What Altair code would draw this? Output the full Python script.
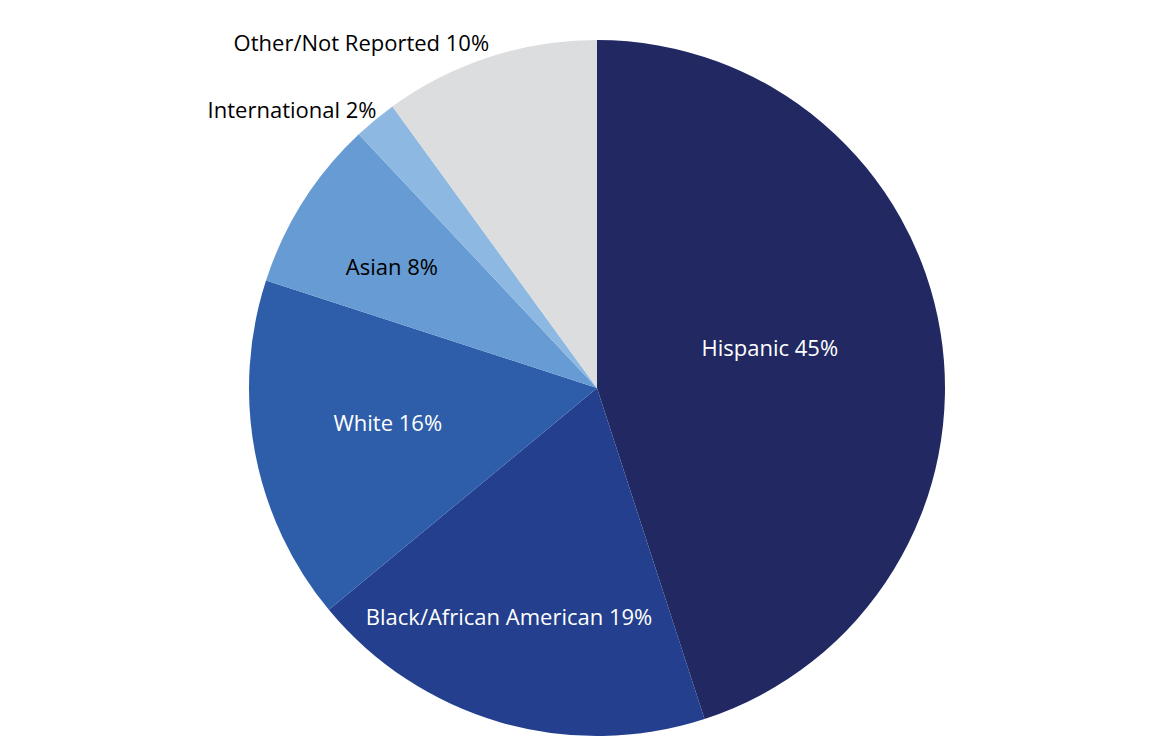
import math
import altair as alt
import pandas as pd

categories = ["Hispanic", "Black/African American", "White", "Asian", "International", "Other/Not Reported"]
values = [45, 19, 16, 8, 2, 10]
colors = ["#222962", "#233F8D", "#2E5DAA", "#679BD3", "#8DB8E2", "#DCDDDF"]

df = pd.DataFrame({
    "category": categories,
    "value": values,
    "order": list(range(len(categories))),
})
df["label"] = [f"{c} {v}%" for c, v in zip(categories, values)]

CX, CY, R = 589, 380, 348
FONT = "Open Sans"
theta_scale = alt.Scale(domain=[0, 100], range=[0, 2 * math.pi])

base = alt.Chart(df).transform_window(
    cum="sum(value)", sort=[alt.SortField("order")], frame=[None, 0]
).transform_calculate(
    start="datum.cum - datum.value",
    mid="datum.cum - datum.value / 2",
)

pie = base.mark_arc(outerRadius=R, stroke=None).encode(
    theta=alt.Theta("start:Q", scale=theta_scale, stack=None),
    theta2="cum:Q",
    color=alt.Color("category:N", scale=alt.Scale(domain=categories, range=colors), legend=None),
    x=alt.value(CX),
    y=alt.value(CY),
)

# per-label placement: (radius, dx, dy, align, color)
placements = {
    "Hispanic": (175, 0, -12, "center", "white"),
    "Black/African American": (240, -21, 0, "center", "white"),
    "White": (213, 0, -4, "center", "white"),
    "Asian": (237, -5, 7, "center", "black"),
    "International": (360, 9, 0, "right", "black"),
    "Other/Not Reported": (362, 4, 0, "right", "black"),
}

layers = [pie]
for cat in categories:
    r, dx, dy, align, col = placements[cat]
    layers.append(
        base.transform_filter(alt.datum.category == cat).mark_text(
            radius=r, dx=dx, dy=dy, align=align, baseline="middle",
            font=FONT, fontSize=22, fontWeight=500, color=col,
        ).encode(
            theta=alt.Theta("mid:Q", scale=theta_scale, stack=None),
            text="label:N",
            x=alt.value(CX),
            y=alt.value(CY),
        )
    )

chart = alt.layer(*layers).properties(
    width=1130, height=730, padding=0
).configure_view(stroke=None)

chart.save("out.html", embed_options={"renderer": "svg", "actions": False})
